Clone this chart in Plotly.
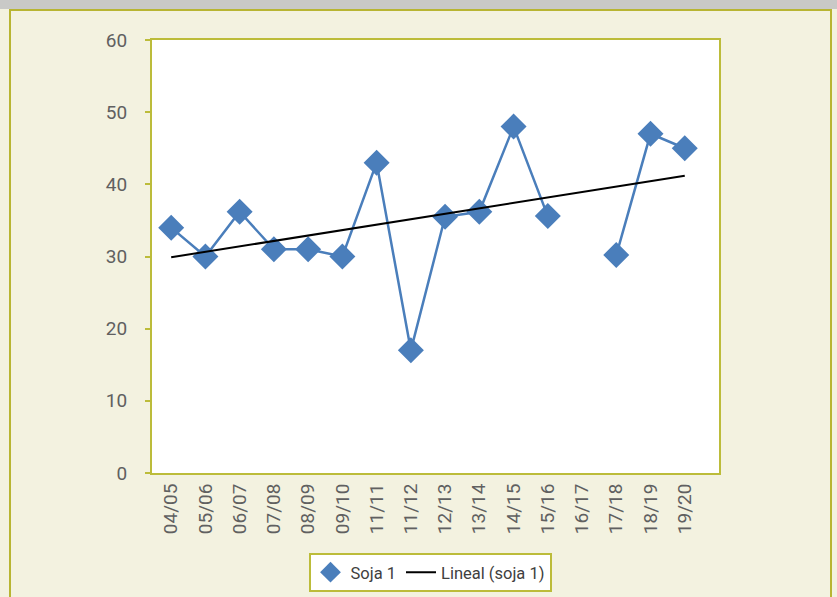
import numpy as np
import plotly.graph_objects as go

categories = ["04/05", "05/06", "06/07", "07/08", "08/09", "09/10", "11/11", "11/12",
              "12/13", "13/14", "14/15", "15/16", "16/17", "17/18", "18/19", "19/20"]
soja1 = [34, 30, 36.2, 31, 31, 30, 43, 17, 35.5, 36.2, 48, 35.6, None, 30.2, 47, 45]
y_ticks = [0, 10, 20, 30, 40, 50, 60]

# linear trend (least squares over available points)
idx = np.array([i for i, v in enumerate(soja1) if v is not None], dtype=float)
vals = np.array([v for v in soja1 if v is not None], dtype=float)
slope, intercept = np.polyfit(idx, vals, 1)
trend = [intercept + slope * i for i in range(len(categories))]

BLUE = "#4a7ebb"
OLIVE = "#bcbc3a"
BEIGE = "#f3f2e0"

fig = go.Figure()
fig.add_trace(go.Scatter(x=list(range(len(categories))), y=soja1, mode="lines+markers",
                         line=dict(color=BLUE, width=2.5),
                         marker=dict(symbol="diamond", size=20, color=BLUE),
                         connectgaps=False, showlegend=False, name="Soja 1"))
fig.add_trace(go.Scatter(x=list(range(len(categories))), y=trend, mode="lines",
                         line=dict(color="black", width=2), showlegend=False,
                         name="Lineal (soja 1)"))
# legend entries
fig.add_trace(go.Scatter(x=[None], y=[None], mode="markers", name="Soja 1",
                         marker=dict(symbol="diamond", size=18, color=BLUE)))
fig.add_trace(go.Scatter(x=[None], y=[None], mode="lines", name="Lineal (soja 1)",
                         line=dict(color="black", width=2)))

W, H = 837, 597
L, R, T, B = 152, 719, 40, 473
pw, ph = R - L, B - T

def px(x):
    return (x - L) / pw

def py(y):
    return (B - y) / ph

fig.update_layout(
    width=W, height=H,
    margin=dict(l=L, r=W - R, t=T, b=H - B, autoexpand=False),
    paper_bgcolor=BEIGE, plot_bgcolor="white",
    font=dict(family="Roboto, Arial, sans-serif", color="#595959", size=15),
    xaxis=dict(range=[-0.56, 16.0], tickmode="array",
               tickvals=list(range(len(categories))), ticktext=categories,
               tickangle=-90, showgrid=False, zeroline=False,
               showline=True, linecolor=OLIVE, linewidth=2, mirror=True,
               ticks="", ticklabelstandoff=1, automargin=False,
               tickfont=dict(size=19, color="#606060")),
    yaxis=dict(range=[0, 60], tickmode="array", tickvals=y_ticks,
               showgrid=False, zeroline=False,
               showline=True, linecolor=OLIVE, linewidth=2, mirror=True,
               ticks="outside", ticklen=5, tickcolor=OLIVE, tickwidth=2,
               ticklabelstandoff=14, automargin=False,
               tickfont=dict(size=19, color="#606060")),
    legend=dict(orientation="h", x=px(430), xanchor="center", y=py(553), yanchor="top",
                bgcolor="white", bordercolor=OLIVE, borderwidth=2,
                font=dict(size=16.5, color="#404040"), itemwidth=30,
                tracegroupgap=0),
    shapes=[
        dict(type="rect", xref="paper", yref="paper",
             x0=px(-5), x1=px(850), y0=py(-5), y1=py(9),
             fillcolor="#c9c9c7", line=dict(width=0), layer="above"),
        dict(type="rect", xref="paper", yref="paper",
             x0=px(10), x1=px(831), y0=py(640), y1=py(10),
             fillcolor="rgba(0,0,0,0)", line=dict(color="#b8b533", width=2), layer="above"),
    ],
)

fig.write_html("out.html")
